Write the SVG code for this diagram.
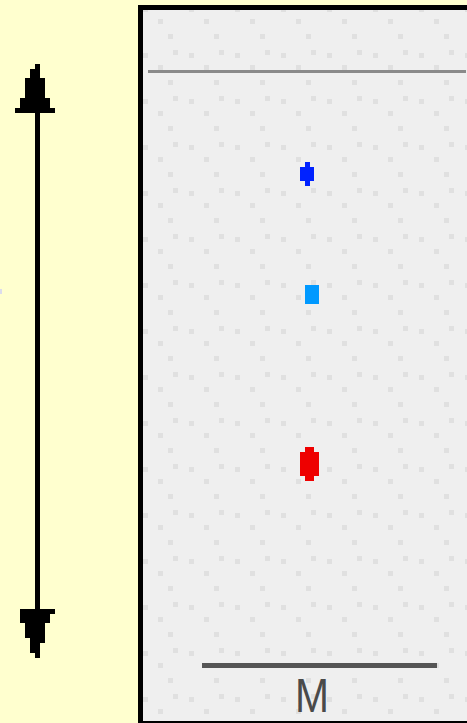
<svg xmlns="http://www.w3.org/2000/svg" width="467" height="723" viewBox="0 0 467 723">
<style>
.ink{fill:#000}
.lbl{font-family:"Liberation Sans",Arial,sans-serif;font-size:49px;fill:#4a4a4a}
</style>
<defs>
<pattern id="dots" x="0" y="0" width="46" height="46" patternUnits="userSpaceOnUse">
<rect width="46" height="46" fill="#efefef"/>
<rect x="5" y="7" width="5" height="5" fill="#e0e0e0"/>
<rect x="20" y="19" width="5" height="5" fill="#e0e0e0"/>
<rect x="35" y="4" width="5" height="5" fill="#e0e0e0"/>
<rect x="30" y="34" width="5" height="5" fill="#e0e0e0"/>
</pattern>
</defs>
<rect width="467" height="723" fill="#ffffcf"/>
<rect x="0" y="289" width="2" height="5" fill="#dcdcec"/>
<g id="panel">
<rect x="138" y="5" width="340" height="723" fill="#000"/>
<rect x="143" y="10" width="330" height="711" fill="url(#dots)"/>
<rect x="148" y="70" width="318" height="3" fill="#8a8a8a"/>
<rect x="202" y="663" width="235" height="5" fill="#555"/>
</g>
<g id="connectors">
<rect class="ink" x="35" y="110" width="5" height="502"/>
<path class="ink" d="M35,64H40V69H40V78H45V98H50V108H55V113H15V108H20V98H25V78H30V69H35Z"/>
<path class="ink" d="M20,609H55V614H50V623H45V643H40V653H40V658H35V653H30V638H25V623H20Z"/>
</g>
<g id="blue">
<path fill="#0022ff" d="M305,162H310V167H314V181H310V186H305V181H300V167H305Z"/>
</g>
<g id="cyan">
<rect x="305" y="285" width="14" height="19" fill="#0099ff"/>
</g>
<g id="red">
<path fill="#ee0000" d="M305,447H314V452H319V476H314V481H305V476H300V452H305Z"/>
</g>
<g id="label">
<text class="lbl" x="295" y="712" textLength="34" lengthAdjust="spacingAndGlyphs">M</text>
</g>
</svg>
